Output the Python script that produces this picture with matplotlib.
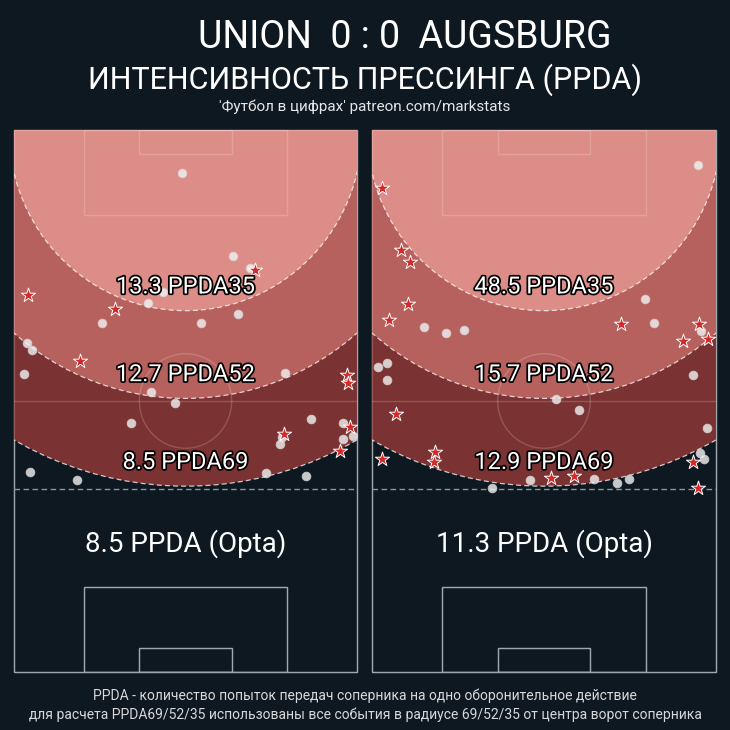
import matplotlib
matplotlib.use("Agg")
import matplotlib.pyplot as plt
from matplotlib.patches import Circle, Arc, Rectangle
import matplotlib.patheffects as pe

plt.rcParams['font.family'] = ['Roboto', 'DejaVu Sans']

# ---------------- data ----------------
title = "UNION  0 : 0  AUGSBURG"
subtitle = "ИНТЕНСИВНОСТЬ ПРЕССИНГА (PPDA)"
credit = "'Футбол в цифрах' patreon.com/markstats"
footer1 = "PPDA - количество попыток передач соперника на одно оборонительное действие"
footer2 = "для расчета PPDA69/52/35 использованы все события в радиусе 69/52/35 от центра ворот соперника"

radii = [69, 52, 35]
left_ppda = [8.5, 12.7, 13.3]      # PPDA69, PPDA52, PPDA35
right_ppda = [12.9, 15.7, 48.5]
left_opta = 8.5
right_opta = 11.3

# pitch coordinates in metres: x across (0-68), y = distance from attacked goal line (0-105)
left_circ_x = [33.4, 29.6, 26.5, 43.5, 46.8, 44.5, 17.4, 2.5, 3.5, 1.9, 27.2, 31.9, 23.2,
               3.2, 12.4, 37.0, 53.8, 58.8, 65.2, 67.2, 65.3, 53.1, 52.7, 50.0, 57.9]
left_circ_y = [8.3, 31.3, 33.5, 24.5, 26.8, 35.6, 37.4, 41.3, 42.7, 47.3, 50.8, 52.9, 56.8,
               66.2, 67.9, 37.3, 47.0, 55.9, 56.8, 59.3, 59.9, 59.5, 60.8, 66.4, 67.0]
left_star_x = [2.8, 20.1, 47.7, 13.1, 66.0, 66.2, 66.6, 53.5, 64.6]
left_star_y = [32.0, 34.6, 27.2, 44.8, 47.5, 49.0, 57.5, 58.9, 62.1]

right_circ_x = [64.4, 53.9, 10.3, 14.6, 18.2, 1.1, 2.9, 3.0, 23.7, 31.2, 55.8, 65.0, 63.4,
                36.3, 41.0, 66.2, 64.8, 65.6, 43.8, 48.5, 50.8]
right_circ_y = [6.8, 32.8, 38.1, 39.3, 38.8, 45.9, 45.2, 48.4, 69.4, 67.9, 37.3, 39.0, 47.5,
                52.2, 54.3, 57.8, 62.5, 63.7, 67.6, 68.3, 67.7]
right_star_x = [2.0, 5.7, 7.5, 7.1, 3.4, 4.8, 12.4, 12.3, 2.0, 49.2, 64.7, 61.5, 66.5,
                63.4, 35.4, 40.0, 64.4]
right_star_y = [11.3, 23.3, 25.6, 33.7, 36.9, 55.0, 62.3, 64.3, 63.8, 37.6, 37.5, 40.9, 40.5,
                64.3, 67.5, 67.0, 69.4]

# ---------------- style ----------------
BG = '#0e1821'
ZONE_COLORS = ['#7b3232', '#b6615d', '#dd8d87']
LINE_GREY = '#8d959c'
PITCH_L, PITCH_W = 105.0, 68.0

fig = plt.figure(figsize=(7.3, 7.3), dpi=100, facecolor=BG)


def draw_panel(ax, ppda, opta, cx, cy, sx, sy):
    ax.set_facecolor(BG)
    ax.set_xlim(0, PITCH_W)
    ax.set_ylim(PITCH_L, 0)
    ax.set_axis_off()

    def pitch_lines(color, alpha, z):
        kw = dict(fill=False, edgecolor=color, alpha=alpha, lw=1.0, zorder=z)
        ax.add_patch(Rectangle((0, 0), PITCH_W, PITCH_L, clip_on=False, **kw))
        ax.plot([0, PITCH_W], [PITCH_L / 2, PITCH_L / 2], color=color, alpha=alpha, lw=1.0, zorder=z)
        ax.add_patch(Circle((PITCH_W / 2, PITCH_L / 2), 9.15, **kw))
        bw, bd = 40.32, 16.5
        gw, gd = 18.32, 4.6
        ax.add_patch(Rectangle((PITCH_W / 2 - bw / 2, 0), bw, bd, **kw))
        ax.add_patch(Rectangle((PITCH_W / 2 - gw / 2, 0), gw, gd, **kw))
        ax.add_patch(Rectangle((PITCH_W / 2 - bw / 2, PITCH_L - bd), bw, bd, **kw))
        ax.add_patch(Rectangle((PITCH_W / 2 - gw / 2, PITCH_L - gd), gw, gd, **kw))

    pitch_lines(LINE_GREY, 1.0, 1)

    for r, col in zip(radii, ZONE_COLORS):
        ax.add_patch(Circle((PITCH_W / 2, 0), r, facecolor=col, edgecolor='none', zorder=2))
    for r in radii:
        ax.add_patch(Arc((PITCH_W / 2, 0), 2 * r, 2 * r, theta1=0, theta2=360,
                         edgecolor='white', lw=0.9, ls=(0, (4, 2.5)), alpha=0.75, zorder=3))
    pitch_lines('white', 0.18, 3)

    ax.plot([0, PITCH_W], [radii[0] + 0.6, radii[0] + 0.6], color=LINE_GREY, lw=1.0,
            ls=(0, (4, 2.5)), zorder=3)

    ax.scatter(cx, cy, s=40, color='#f4f4f4', alpha=0.8, edgecolors='#d0d0d0', linewidths=0.6,
               zorder=4)
    ax.scatter(sx, sy, s=115, marker='*', color='#d22a2a', edgecolors='white', linewidths=0.7,
               zorder=5)

    stroke = [pe.withStroke(linewidth=2.5, foreground='black')]
    for r, v in zip(radii, ppda):
        ax.text(PITCH_W / 2, r - 4.6, f"{v} PPDA{r}", ha='center', va='center', fontsize=17,
                color='white', path_effects=stroke, zorder=6)
    ax.text(PITCH_W / 2, 80.2, f"{opta} PPDA (Opta)", ha='center', va='center', fontsize=20,
            color='white', zorder=6)


H = 730.0
axL = fig.add_axes([14 / H, (H - 672) / H, 343 / H, 542 / H])
axR = fig.add_axes([372 / H, (H - 672) / H, 344 / H, 542 / H])
draw_panel(axL, left_ppda, left_opta, left_circ_x, left_circ_y, left_star_x, left_star_y)
draw_panel(axR, right_ppda, right_opta, right_circ_x, right_circ_y, right_star_x, right_star_y)

fig.text(405 / H, 1 - 37 / H, title, ha='center', va='center', fontsize=27, color='white')
fig.text(365 / H, 1 - 80 / H, subtitle, ha='center', va='center', fontsize=22, color='white')
fig.text(365 / H, 1 - 107 / H, credit, ha='center', va='center', fontsize=11, color='#e6e6e6')
fig.text(365 / H, 1 - 696 / H, footer1, ha='center', va='center', fontsize=10, color='#d8d8d8')
fig.text(365 / H, 1 - 715 / H, footer2, ha='center', va='center', fontsize=10, color='#d8d8d8')

fig.savefig('out.png', dpi=100, facecolor=BG)
